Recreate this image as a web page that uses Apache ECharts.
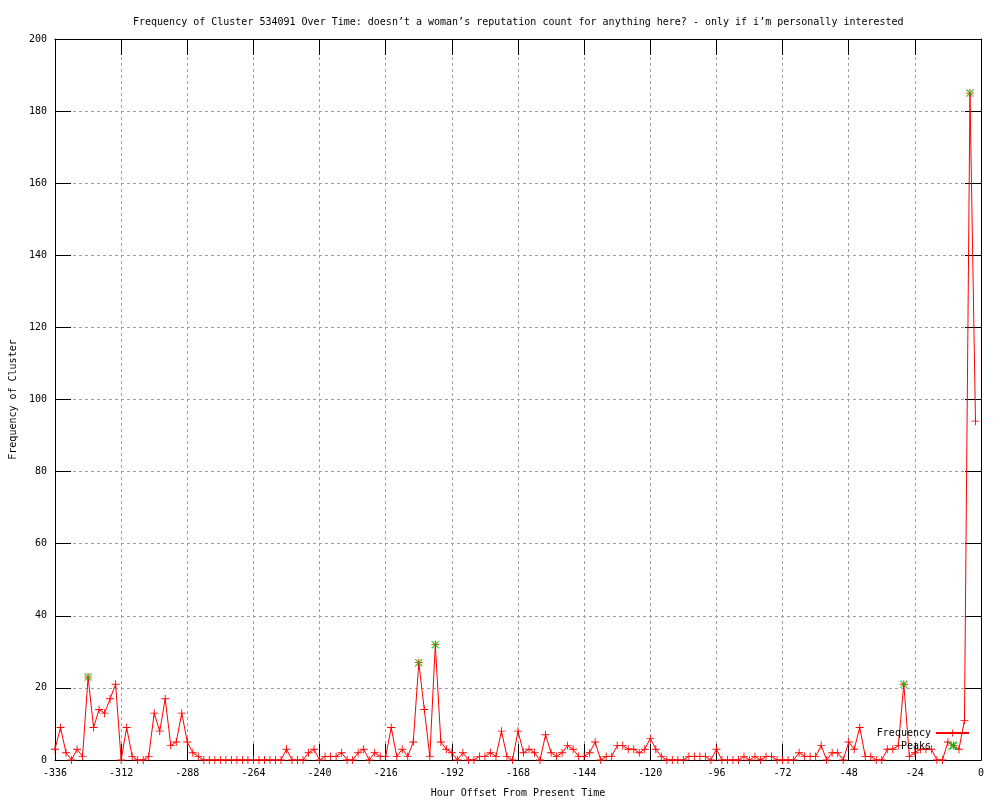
<!DOCTYPE html>
<html>
<head>
<meta charset="utf-8">
<script src="https://cdn.jsdelivr.net/npm/echarts@6/dist/echarts.min.js"></script>
<style>html,body{margin:0;padding:0;background:#fff;}#c{width:1000px;height:800px;}</style>
</head>
<body>
<div id="c"></div>
<script>
const hours = [-336,-334,-332,-330,-328,-326,-324,-322,-320,-318,-316,-314,-312,-310,-308,-306,-304,-302,-300,-298,
-296,-294,-292,-290,-288,-286,-284,-282,-280,-278,-276,-274,-272,-270,-268,-266,-264,-262,-260,-258,
-256,-254,-252,-250,-248,-246,-244,-242,-240,-238,-236,-234,-232,-230,-228,-226,-224,-222,-220,-218,
-216,-214,-212,-210,-208,-206,-204,-202,-200,-198,-196,-194,-192,-190,-188,-186,-184,-182,-180,-178,
-176,-174,-172,-170,-168,-166,-164,-162,-160,-158,-156,-154,-152,-150,-148,-146,-144,-142,-140,-138,
-136,-134,-132,-130,-128,-126,-124,-122,-120,-118,-116,-114,-112,-110,-108,-106,-104,-102,-100,-98,
-96,-94,-92,-90,-88,-86,-84,-82,-80,-78,-76,-74,-72,-70,-68,-66,-64,-62,-60,-58,
-56,-54,-52,-50,-48,-46,-44,-42,-40,-38,-36,-34,-32,-30,-28,-26,-24,-22,-20,-18,
-16,-14,-12,-10,-8,-6,-4,-2];
const frequency = [3,9,2,0,3,1,23,9,14,13,17,21,0,9,1,0,0,1,13,8,
17,4,5,13,5,2,1,0,0,0,0,0,0,0,0,0,0,0,0,0,
0,0,3,0,0,0,2,3,0,1,1,1,2,0,0,2,3,0,2,1,
1,9,1,3,1,5,27,14,1,32,5,3,2,0,2,0,0,1,1,2,
1,8,1,0,8,2,3,2,0,7,2,1,2,4,3,1,1,2,5,0,
1,1,4,4,3,3,2,3,6,3,1,0,0,0,0,1,1,1,1,0,
3,0,0,0,0,1,0,1,0,1,1,0,0,0,0,2,1,1,1,4,
0,2,2,0,5,3,9,1,1,0,0,3,3,4,21,1,2,3,3,3,
0,0,5,4,3,11,185,94];
const peakHours = [-324,-204,-198,-28,-10,-4];
const peakValues = [23,27,32,21,4,185];
const xTicks = [-336,-312,-288,-264,-240,-216,-192,-168,-144,-120,-96,-72,-48,-24,0];
const yTicks = [0,20,40,60,80,100,120,140,160,180,200];

const FONT = 'DejaVu Sans Mono';
const FS = 10;
const plus = 'path://M0,4h9v1h-9zM4,0h1v9h-1z';
const cross = 'path://M0,1L1,0L9,8L8,9ZM8,0L9,1L1,9L0,8Z';

const chart = echarts.init(document.getElementById('c'), null, {renderer: 'canvas'});
const gridLine = {show: true, lineStyle: {color: '#a0a0a0', type: [3, 3], width: 1}};
const tick = {show: true, inside: true, length: 16, lineStyle: {color: '#000', width: 1}};
const axLine = {show: true, onZero: false, lineStyle: {color: '#000', width: 1}};
const lbl = {color: '#000', fontFamily: FONT, fontSize: FS};

chart.setOption({
  animation: false,
  backgroundColor: '#fff',
  title: {
    text: 'Frequency of Cluster 534091 Over Time: doesn\u2019t a woman\u2019s reputation count for anything here? - only if i\u2019m personally interested',
    left: 128, top: 12,
    textStyle: {fontFamily: FONT, fontSize: FS, fontWeight: 'normal', color: '#000'}
  },
  grid: {left: 55, right: 19, top: 39, bottom: 40, containLabel: false, outerBoundsMode: 'none'},
  legend: [
    {data: ['Frequency'], right: 30, top: 728, align: 'right', orient: 'vertical',
     itemWidth: 33, itemHeight: 9, padding: 0,
     textStyle: {fontFamily: FONT, fontSize: FS, color: '#000'}},
    {data: ['Peaks'], right: 43, top: 741, align: 'right', orient: 'vertical',
     itemWidth: 33, itemHeight: 9, padding: 0,
     textStyle: {fontFamily: FONT, fontSize: FS, color: '#000'}}
  ],
  xAxis: [
    {type: 'value', min: -336, max: 0, interval: 24, position: 'bottom',
     name: 'Hour Offset From Present Time', nameLocation: 'middle', nameGap: 28,
     nameTextStyle: {fontFamily: FONT, fontSize: FS, color: '#000'},
     axisLine: axLine, axisTick: tick, splitLine: gridLine,
     axisLabel: Object.assign({margin: 8}, lbl)},
    {type: 'value', min: -336, max: 0, interval: 24, position: 'top',
     axisLine: axLine, axisTick: tick, splitLine: {show: false}, axisLabel: {show: false}}
  ],
  yAxis: [
    {type: 'value', min: 0, max: 200, interval: 20, position: 'left',
     name: 'Frequency of Cluster', nameLocation: 'middle', nameGap: 36, nameRotate: 90,
     nameTextStyle: {fontFamily: FONT, fontSize: FS, color: '#000'},
     axisLine: axLine, axisTick: tick, splitLine: gridLine,
     axisLabel: Object.assign({margin: 8}, lbl)},
    {type: 'value', min: 0, max: 200, interval: 20, position: 'right',
     axisLine: axLine, axisTick: tick, splitLine: {show: false}, axisLabel: {show: false}}
  ],
  series: [
    {name: 'Frequency', type: 'line', xAxisIndex: 0, yAxisIndex: 0,
     data: hours.map((h, i) => [h, frequency[i]]),
     symbol: plus, symbolSize: 8, showAllSymbol: true,
     lineStyle: {color: '#ff0000', width: 1},
     itemStyle: {color: '#ff0000'}, clip: false, z: 3},
    {name: 'Peaks', type: 'scatter', xAxisIndex: 0, yAxisIndex: 0,
     data: peakHours.map((h, i) => [h, peakValues[i]]),
     symbol: cross, symbolSize: 8,
     itemStyle: {color: '#00c000'}, z: 4}
  ]
});
</script>
</body>
</html>
